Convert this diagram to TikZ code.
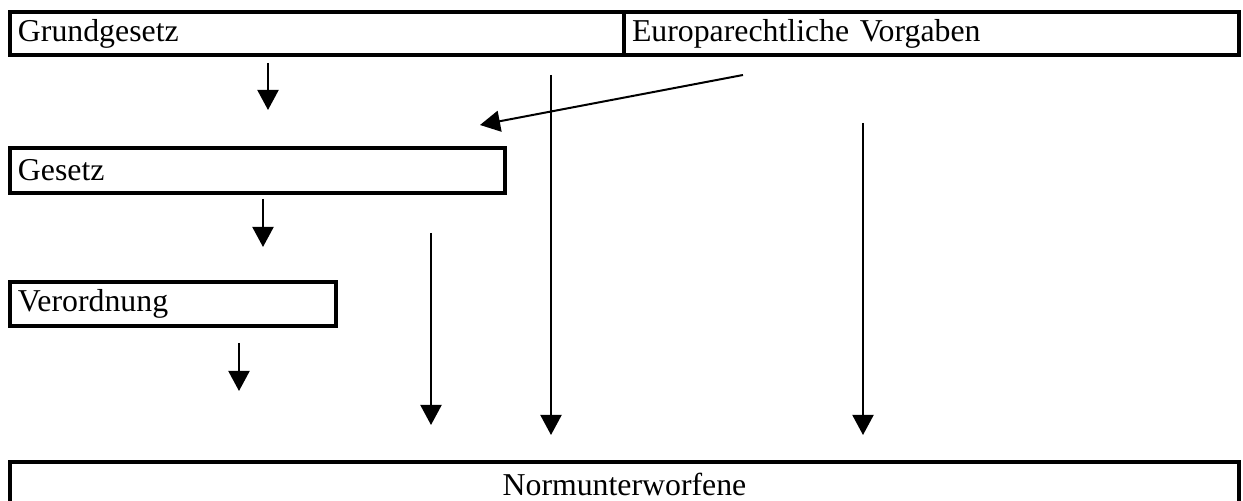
\documentclass[tikz,border=0pt]{standalone}
\usepackage{fontspec}
\setmainfont{Liberation Serif}
\usetikzlibrary{arrows.meta}
\begin{document}
\begin{tikzpicture}[x=0.5pt,y=-0.5pt,
  box/.style={draw, line width=2pt, anchor=north west, inner xsep=4pt, inner ysep=0pt,
    font=\fontsize{15.9pt}{19pt}\selectfont},
  conn/.style={line width=1pt, -{Triangle[width=10.5pt,length=10pt]}}]
\useasboundingbox (0,0) rectangle (1243,501);
\node[box, text width=299pt, minimum height=21.5pt, align=left] (grund) at (8,10) {Grundgesetz};
\node[box, text width=299.5pt, minimum height=21.5pt, align=left] (europa) at (622,10) {Europarechtliche Vorgaben};
\node[box, text width=239.5pt, minimum height=22.5pt, align=left] (gesetz) at (8,146) {Gesetz};
\node[box, text width=155pt, minimum height=22pt, align=left] (verord) at (8,280) {Verordnung};
\node[box, text width=606.5pt, minimum height=22.5pt, align=center] (norm) at (8,460) {Normunterworfene};
% arrow end points
\coordinate (a1s) at (268,63);  \coordinate (a1e) at (268,110);
\coordinate (a2s) at (263,199); \coordinate (a2e) at (263,247);
\coordinate (a3s) at (239,343); \coordinate (a3e) at (239,391);
\coordinate (a4s) at (431,233); \coordinate (a4e) at (431,425);
\coordinate (a5s) at (551,75);  \coordinate (a5e) at (551,435);
\coordinate (a6s) at (863,123); \coordinate (a6e) at (863,435);
\coordinate (a7s) at (743,75);  \coordinate (a7e) at (480,125);
\draw[conn] (a1s) -- (a1e);
\draw[conn] (a2s) -- (a2e);
\draw[conn] (a3s) -- (a3e);
\draw[conn] (a4s) -- (a4e);
\draw[conn] (a5s) -- (a5e);
\draw[conn] (a6s) -- (a6e);
\draw[conn] (a7s) -- (a7e);
\end{tikzpicture}
\end{document}
